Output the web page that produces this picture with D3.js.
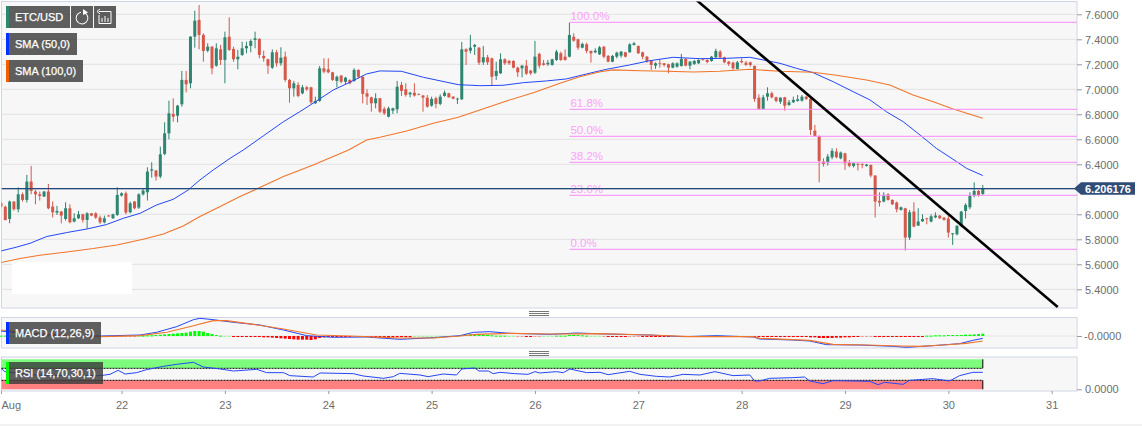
<!DOCTYPE html>
<html>
<head>
<meta charset="utf-8">
<script src="https://d3js.org/d3.v7.min.js"></script>
<style>
  html, body { margin: 0; padding: 0; background: #fff; }
  svg { display: block; font-family: "Liberation Sans", Arial, sans-serif; }
</style>
</head>
<body>
<div id="chart"></div>
<script>
// hourly candles
const opens = [
  6.09,6.06,5.963,6.102,6.04,6.16,6.115,6.262,6.182,6.16,
  6.142,6.182,6.062,6.014,6.022,5.963,6.048,5.942,5.968,6.0,
  5.955,6.008,6.008,5.974,5.936,5.99,5.968,5.995,6.15,6.168,
  6.016,6.102,6.054,6.16,6.176,6.35,6.35,6.302,6.483,6.648,
  6.803,6.789,6.88,7.075,7.048,7.421,7.555,7.435,7.309,7.341,
  7.189,7.32,7.235,7.421,7.323,7.24,7.275,7.328,7.347,7.395,
  7.403,7.267,7.24,7.173,7.296,7.208,7.261,7.075,7.008,7.035,
  6.968,7.016,7.016,6.888,6.907,7.168,7.16,7.136,7.067,7.11,
  7.06,7.075,7.067,7.155,7.1,6.968,6.936,6.888,6.928,6.843,
  6.781,6.829,6.84,7.035,7.0,6.96,6.973,6.963,6.95,6.933,
  6.869,6.928,6.883,6.947,6.968,6.941,6.92,6.92,7.32,7.309,
  7.341,7.333,7.216,7.256,7.248,7.107,7.128,7.24,7.227,7.227,
  7.173,7.168,7.189,7.15,7.133,7.283,7.208,7.2,7.195,7.235,
  7.288,7.261,7.261,7.421,7.4,7.333,7.36,7.307,7.296,7.28,
  7.341,7.267,7.221,7.261,7.269,7.296,7.296,7.355,7.347,7.296,
  7.261,7.227,7.189,7.208,7.208,7.2,7.173,7.181,7.187,7.243,
  7.189,7.203,7.208,7.24,7.235,7.227,7.256,7.301,7.256,7.221,
  7.213,7.163,7.227,7.213,7.216,7.187,6.933,6.843,6.941,6.968,
  6.936,6.901,6.936,6.875,6.896,6.907,6.909,6.941,6.923,6.669,
  6.627,6.422,6.414,6.456,6.502,6.448,6.488,6.414,6.387,6.403,
  6.403,6.387,6.395,6.31,6.107,6.102,6.16,6.115,6.094,6.035,
  6.048,5.814,6.022,5.91,5.944,5.968,5.942,5.976,5.99,5.974,
  5.966,5.84,5.84,5.907,6.027,6.056,6.15,6.187,6.163
]
const highs = [
  6.10,6.07,6.11,6.105,6.216,6.174,6.315,6.387,6.195,6.182,
  6.187,6.243,6.102,6.067,6.027,6.096,6.08,6.008,6.027,6.005,
  6.016,6.01,6.016,5.99,5.99,5.995,6.005,6.216,6.176,6.182,
  6.102,6.107,6.168,6.208,6.376,6.416,6.355,6.541,6.736,6.909,
  6.928,6.875,7.147,7.147,7.425,7.629,7.675,7.448,7.368,7.345,
  7.368,7.355,7.461,7.576,7.341,7.315,7.381,7.381,7.4,7.461,
  7.408,7.309,7.245,7.32,7.315,7.336,7.301,7.083,7.067,7.056,
  7.035,7.027,7.02,6.941,7.187,7.248,7.248,7.14,7.11,7.115,
  7.1,7.08,7.168,7.16,7.105,7.0,6.941,6.968,6.93,6.861,
  6.861,6.853,7.067,7.06,7.048,6.98,7.048,6.967,6.955,6.955,
  6.941,6.941,6.96,6.99,6.973,6.945,6.933,7.379,7.328,7.435,
  7.363,7.338,7.347,7.275,7.252,7.221,7.288,7.248,7.235,7.232,
  7.181,7.195,7.235,7.155,7.387,7.293,7.235,7.235,7.245,7.315,
  7.301,7.32,7.533,7.448,7.405,7.373,7.373,7.31,7.328,7.347,
  7.345,7.275,7.275,7.301,7.307,7.3,7.368,7.379,7.35,7.301,
  7.267,7.23,7.216,7.24,7.21,7.205,7.216,7.216,7.283,7.248,
  7.227,7.235,7.24,7.245,7.24,7.267,7.325,7.315,7.261,7.227,
  7.221,7.227,7.248,7.227,7.221,7.19,6.96,6.955,7.016,6.981,
  6.941,6.936,6.94,6.915,6.941,6.955,6.955,6.949,6.933,6.715,
  6.63,6.448,6.483,6.528,6.528,6.502,6.492,6.435,6.414,6.414,
  6.406,6.403,6.398,6.313,6.176,6.176,6.168,6.12,6.102,6.062,
  6.052,6.035,6.096,6.048,6.0,5.972,6.0,6.016,5.993,5.976,
  5.99,5.85,5.915,6.027,6.088,6.176,6.256,6.195,6.235
]
const lows = [
  6.056,5.95,5.928,6.03,6.016,6.102,6.094,6.16,6.08,6.11,
  6.138,6.04,5.974,5.995,5.928,5.95,5.928,5.936,5.963,5.934,
  5.883,5.985,5.963,5.923,5.928,5.98,5.963,5.987,6.142,6.0,
  6.008,6.04,6.043,6.15,6.11,6.294,6.27,6.288,6.472,6.6,
  6.741,6.736,6.861,6.976,7.008,7.333,7.32,7.221,7.296,7.12,
  7.181,7.195,7.048,7.307,7.221,7.16,7.267,7.288,7.296,7.328,
  7.248,7.221,7.123,7.163,7.181,7.189,7.06,6.893,6.941,6.936,
  6.96,6.987,6.883,6.883,6.9,7.128,7.128,7.067,7.016,7.048,
  7.04,7.04,7.06,7.088,6.888,6.875,6.821,6.848,6.81,6.795,
  6.775,6.803,6.808,6.947,6.941,6.936,6.941,6.953,6.821,6.853,
  6.861,6.848,6.872,6.941,6.933,6.92,6.883,6.915,7.195,7.288,
  7.275,7.195,7.195,7.195,7.027,7.075,7.123,7.195,7.195,7.168,
  7.1,7.096,7.115,7.115,7.123,7.168,7.189,7.187,7.189,7.227,
  7.227,7.229,7.255,7.381,7.315,7.328,7.288,7.213,7.288,7.275,
  7.248,7.216,7.216,7.248,7.253,7.255,7.293,7.35,7.283,7.24,
  7.213,7.155,7.163,7.173,7.181,7.128,7.168,7.173,7.181,7.185,
  7.16,7.195,7.203,7.23,7.208,7.221,7.248,7.248,7.208,7.187,
  7.155,7.16,7.208,7.187,7.181,6.9,6.84,6.84,6.909,6.928,
  6.896,6.883,6.829,6.867,6.891,6.901,6.901,6.915,6.635,6.621,
  6.256,6.382,6.39,6.44,6.448,6.44,6.355,6.376,6.374,6.35,
  6.368,6.382,6.296,5.974,6.062,6.096,6.11,6.075,6.016,6.03,
  5.71,5.795,5.896,5.907,5.939,5.92,5.936,5.968,5.963,5.95,
  5.814,5.755,5.832,5.896,5.966,6.04,6.136,6.142,6.155
]
const closes = [
  6.06,5.955,6.102,6.04,6.16,6.115,6.262,6.187,6.16,6.147,
  6.182,6.048,6.016,6.027,5.99,6.048,5.936,5.968,6.0,5.955,
  6.008,5.99,5.974,5.936,5.968,5.985,6.0,6.155,6.168,6.014,
  6.088,6.048,6.16,6.19,6.342,6.36,6.302,6.48,6.648,6.808,
  6.781,6.869,7.075,7.04,7.421,7.549,7.435,7.307,7.341,7.168,
  7.328,7.235,7.416,7.315,7.24,7.261,7.328,7.347,7.387,7.408,
  7.275,7.248,7.189,7.296,7.208,7.253,7.075,7.008,7.048,6.947,
  7.016,7.0,6.896,6.907,7.168,7.141,7.136,7.075,7.1,7.06,
  7.093,7.048,7.155,7.1,6.963,6.941,6.888,6.928,6.821,6.808,
  6.848,6.848,7.021,6.987,6.955,6.973,6.95,6.957,6.933,6.861,
  6.923,6.883,6.941,6.973,6.936,6.925,6.925,7.32,7.301,7.333,
  7.355,7.213,7.256,7.216,7.1,7.147,7.24,7.208,7.208,7.173,
  7.136,7.189,7.125,7.128,7.261,7.189,7.195,7.213,7.24,7.301,
  7.235,7.235,7.435,7.389,7.333,7.363,7.307,7.288,7.309,7.336,
  7.261,7.221,7.267,7.293,7.301,7.261,7.36,7.368,7.288,7.261,
  7.227,7.195,7.208,7.203,7.195,7.173,7.208,7.208,7.243,7.189,
  7.221,7.227,7.235,7.235,7.218,7.261,7.307,7.256,7.216,7.203,
  7.168,7.216,7.216,7.195,7.195,6.923,6.843,6.936,6.968,6.936,
  6.907,6.933,6.869,6.896,6.915,6.92,6.941,6.923,6.675,6.627,
  6.427,6.403,6.462,6.507,6.456,6.494,6.408,6.387,6.408,6.398,
  6.395,6.398,6.31,6.102,6.094,6.155,6.115,6.08,6.04,6.056,
  5.814,6.016,5.902,5.942,5.963,5.963,5.984,5.99,5.968,5.955,
  5.854,5.848,5.907,6.022,6.075,6.147,6.187,6.155,6.206
]

// moving averages, [candle index, value]
const sma50 = [[0,5.707],[3.25,5.734],[6.74,5.768],[10.6,5.822],[15.25,5.854],[20.05,5.883],[24.5,5.918],[28.4,5.968],[32.3,6.008],[36.15,6.075],[40,6.12],[43.5,6.195],[46.2,6.275],[49.3,6.355],[53.2,6.448],[56.3,6.515],[60.9,6.627],[65.6,6.741],[69.4,6.821],[73.3,6.907],[77.2,6.995],[81,7.056],[84.9,7.123],[88,7.147],[93,7.144],[98.1,7.096],[106.2,7.037],[111.2,7.029],[116.6,7.032],[121.3,7.053],[126.7,7.067],[131.3,7.083],[136,7.123],[140.6,7.16],[146,7.195],[150.7,7.229],[156.1,7.256],[162.3,7.245],[168.5,7.248],[173.9,7.256],[177,7.235],[180.9,7.208],[184.7,7.168],[188.6,7.133],[193.3,7.06],[197.9,6.981],[201.8,6.915],[205.6,6.821],[209.5,6.741],[213.4,6.635],[217.2,6.528],[221.9,6.422],[224.2,6.368],[228,6.31]]
const sma100 = [[0,5.614],[4.4,5.646],[9,5.672],[15.25,5.699],[21.4,5.726],[26.9,5.755],[33,5.8],[37.7,5.843],[42.3,5.907],[46.2,5.982],[50.9,6.062],[55.5,6.142],[60.1,6.214],[65.6,6.302],[72.5,6.395],[80.7,6.515],[84.9,6.595],[88,6.616],[94.2,6.667],[100.4,6.728],[106.2,6.776],[111.2,6.835],[117.4,6.907],[123.6,6.973],[129.8,7.048],[134.4,7.1],[139.1,7.141],[142.2,7.155],[148.4,7.149],[154.6,7.144],[160.8,7.139],[166.9,7.144],[173.9,7.16],[180.9,7.144],[188.6,7.136],[194,7.112],[201,7.075],[206.4,7.035],[211.8,6.955],[216.5,6.901],[221.1,6.843],[228,6.768]]

// fibonacci retracement, drawn from fibStart to the right edge
const fibLabels = ["100.0%", "61.8%", "50.0%", "38.2%", "23.6%", "0.0%"]
const fibValues = [7.536, 6.84, 6.624, 6.416, 6.152, 5.72]
const fibStart = 132

// hand drawn trend line, two anchors
const trendLine = [[161.5, 7.714], [245.4, 5.258]]

const lastPrice = 6.206176
const lastPriceLabel = "6.206176"

const priceTicks = [5.4, 5.6, 5.8, 6.0, 6.2, 6.4, 6.6, 6.8, 7.0, 7.2, 7.4, 7.6]
const dayTicks = [0, 28, 52, 76, 100, 124, 148, 172, 196, 220, 244]
const dayLabels = ["Aug", "22", "23", "24", "25", "26", "27", "28", "29", "30", "31"]

const macdLine = [[0,.06],[7.5,.02],[15.2,.004],[23,0],[32.3,.012],[36.1,.044],[40.8,.112],[44.7,.196],[46.2,.212],[49.3,.196],[54,.164],[60.1,.132],[65.6,.072],[71,.004],[77.2,-.016],[84.9,-.012],[92.6,-.04],[100.4,-.02],[106.6,.004],[109.7,.044],[113.5,.052],[118.2,.032],[127.5,.02],[133.7,.036],[140.6,.024],[150.7,.012],[158.4,-.008],[166.2,.004],[174.7,-.012],[176.2,-.036],[183.9,-.048],[187.8,-.06],[191.7,-.104],[199.4,-.108],[207.2,-.124],[210.3,-.136],[216.4,-.116],[222.6,-.092],[225.7,-.052],[228,-.028]]
const macdSignal = [[0,.072],[7.5,.032],[15.2,.004],[23,-.008],[32.3,.004],[38.5,.044],[44.7,.124],[49.3,.184],[52.4,.184],[58.6,.14],[65.6,.084],[73.3,.012],[81,0],[88.8,-.016],[92.6,-.024],[100.4,-.024],[106.6,0],[110.4,.02],[118.2,.032],[127.5,.024],[139.1,.028],[150.7,.012],[160,-.008],[170,-.008],[174.7,-.008],[176.2,-.028],[183.9,-.044],[187.8,-.052],[193.2,-.1],[201,-.108],[208.7,-.12],[213.4,-.124],[218.8,-.108],[224.2,-.088],[228,-.06]]
const macdHist = [
  .004,.004,.004,.004,.004,.002,.002,.002,.002,.002,
  .002,.002,.002,.002,.002,.002,.002,.002,.002,.002,
  .002,-.002,-.002,-.004,-.004,-.004,-.004,-.002,-.002,-.002,
  -.002,-.002,.002,.004,.008,.008,.012,.016,.02,.024,
  .028,.032,.036,.04,.052,.06,.06,.052,.036,.024,
  .012,.004,.002,.002,-.004,-.008,-.008,-.012,-.012,-.012,
  -.012,-.016,-.016,-.02,-.024,-.028,-.032,-.036,-.04,-.044,
  -.044,-.044,-.048,-.04,-.024,-.016,-.012,-.008,-.008,-.004,
  -.004,-.004,-.002,-.002,-.004,-.008,-.012,-.012,-.016,-.016,
  -.012,-.012,-.008,-.008,-.004,-.004,.002,.002,.002,.002,
  .002,.002,.002,.002,.002,.002,.002,.012,.016,.02,
  .02,.02,.016,.012,.008,.004,.004,.004,.002,.002,
  -.002,-.002,-.004,-.004,-.002,-.002,.002,.002,.002,.004,
  .004,.004,.012,.012,.012,.008,.004,.002,.002,.002,
  -.002,-.004,-.004,-.004,-.004,-.004,-.002,-.002,-.002,-.004,
  -.004,-.004,-.004,-.004,-.004,-.004,-.002,-.002,-.002,-.002,
  -.002,-.002,.002,.002,.002,.002,.004,.004,.002,.002,
  .002,.002,.002,-.002,-.002,-.008,-.012,-.012,-.012,-.012,
  -.012,-.008,-.008,-.008,-.008,-.008,-.012,-.012,-.016,-.016,
  -.024,-.024,-.024,-.024,-.02,-.02,-.016,-.016,-.012,-.012,
  -.002,-.002,-.002,-.008,-.008,-.008,-.008,-.008,-.008,-.008,
  -.008,-.008,-.004,-.004,-.004,.004,.004,.008,.008,.008,
  .012,.012,.012,.012,.016,.016,.02,.024,.028
]

const rsiLine = [[0,69.9],[.9,58.8],[7.5,48],[15.2,45],[23,45.5],[25.3,49.9],[27.2,63.2],[28.8,51],[31.5,55.5],[33.8,65.5],[37.7,76.6],[40.8,83.2],[44.7,89.9],[47,74.3],[50.9,67.7],[54,61],[59.4,66.6],[61.7,55.5],[65.6,55.5],[67.1,45.5],[72.5,41],[74.1,54.4],[81.8,52.1],[84.1,44.4],[88.8,36.6],[91.1,42.1],[92.6,53.2],[97.3,47.7],[99.2,42.1],[102.7,51],[105.8,47.7],[107,67.7],[110,71],[111,61],[113.2,61],[114.3,52.1],[115.9,56.6],[119.3,52.1],[122.4,49.9],[124,58.8],[125.1,54.4],[129,58.8],[130.6,55.5],[132.1,67.7],[136,55.5],[139.1,56.6],[141,48.8],[146,59.9],[148.4,49.9],[152.2,43.2],[155.3,41],[158.4,49.9],[162.3,47.7],[165.8,58.8],[170,45.5],[173.9,47.7],[175,27.7],[176.2,27.7],[178.5,36.6],[183.9,38.8],[186.6,41],[187.8,27.7],[190.9,18.8],[193.2,28.8],[201.7,26.6],[203.7,15.5],[205.2,23.2],[209.5,16.6],[211,29.9],[216.4,35.5],[220.3,27.7],[222.6,45.5],[225.7,56.6],[228,56.6]]
const rsiLevels = [30, 70]

const WIDTH = 1142, HEIGHT = 426
const LEFT = 1.5, RIGHT = 1077
const GRID = "#e6e6e6", BORDER = "#d2d5e6", LABEL = "#6e6e6e"
const UP = "#2e8570", DOWN = "#d5584a"
const BLUE = "#2447f5", ORANGE = "#f0752a"

const svg = d3.select("#chart").append("svg").attr("width", WIDTH).attr("height", HEIGHT)

const x = d3.scaleLinear().domain([0, 244]).range([1, 1051.7])
const y = d3.scaleLinear().domain([5.4, 7.6]).range([289.3, 14.3])
const yMacd = d3.scaleLinear().domain([-.144, .222]).range([348, 317.5])
const yRsi = d3.scaleLinear().domain([0, 100]).range([389.3, 359.3])

const lineOf = yScale => d3.line().x(d => x(d[0])).y(d => yScale(d[1]))

// panels
const panels = [[1.5, 308], [317.5, 348], [357, 391]]
panels.forEach(p => {
  svg.append("rect")
    .attr("x", LEFT).attr("y", p[0])
    .attr("width", RIGHT - LEFT).attr("height", p[1] - p[0])
    .attr("fill", "#f7f7f7").attr("stroke", BORDER)
})

svg.append("clipPath").attr("id", "main-clip").append("rect")
  .attr("x", LEFT).attr("y", 1.5).attr("width", RIGHT - LEFT).attr("height", 306.5)

// price axis with the grid
const priceAxis = d3.axisRight(y).tickValues(priceTicks).tickSize(5).tickPadding(3).tickFormat(d3.format(".4f"))
svg.selectAll("line.grid").data(priceTicks).enter().append("line")
  .attr("class", "grid")
  .attr("x1", LEFT).attr("x2", RIGHT)
  .attr("y1", d => y(d)).attr("y2", d => y(d))
  .attr("stroke", GRID).attr("stroke-width", 1.3)

const styleAxis = g => {
  g.select(".domain").remove()
  g.selectAll("line").attr("stroke", "#9a9a9a")
  g.selectAll("text").attr("fill", LABEL).style("font-size", "11px").style("font-family", "inherit")
}
const priceG = svg.append("g").attr("transform", `translate(${RIGHT},0)`).call(priceAxis).call(styleAxis)
priceG.selectAll("text").attr("dy", "0.42em")
// the 6.2000 label sits behind the last price tag
priceG.selectAll("text").filter(d => d === 6.2).remove()

const main = svg.append("g").attr("clip-path", "url(#main-clip)")

// candles
const candles = main.append("g")
d3.range(closes.length).forEach(i => {
  const up = closes[i] >= opens[i]
  const color = up ? UP : DOWN
  candles.append("line")
    .attr("x1", x(i)).attr("x2", x(i))
    .attr("y1", y(highs[i])).attr("y2", y(lows[i]))
    .attr("stroke", color).attr("stroke-width", 1)
  const top = y(Math.max(opens[i], closes[i])), bottom = y(Math.min(opens[i], closes[i]))
  candles.append("rect")
    .attr("x", x(i) - 1.5).attr("y", top)
    .attr("width", 3).attr("height", Math.max(bottom - top, 0.8))
    .attr("fill", color)
})

main.append("path").attr("d", lineOf(y)(sma50)).attr("fill", "none").attr("stroke", BLUE).attr("stroke-width", 1)
main.append("path").attr("d", lineOf(y)(sma100)).attr("fill", "none").attr("stroke", ORANGE).attr("stroke-width", 1.1)

// fib levels
fibValues.forEach((v, i) => {
  main.append("line")
    .attr("x1", x(fibStart)).attr("x2", RIGHT)
    .attr("y1", y(v)).attr("y2", y(v))
    .attr("stroke", "#fb8cfb").attr("stroke-width", 1)
  main.append("text")
    .attr("x", x(fibStart) + 1).attr("y", y(v) - 2)
    .attr("fill", "#fca0fc").style("font-size", "11.5px")
    .text(fibLabels[i])
})

// last price line
main.append("line")
  .attr("x1", LEFT).attr("x2", RIGHT)
  .attr("y1", y(lastPrice)).attr("y2", y(lastPrice))
  .attr("stroke", "#234a7c").attr("stroke-width", 1.2)

main.append("path").attr("d", lineOf(y)(trendLine))
  .attr("fill", "none").attr("stroke", "#000").attr("stroke-width", 2.6)

// last price tag
const tagY = y(lastPrice)
svg.append("path")
  .attr("d", `M1074,${tagY} L1081,${tagY - 6.3} L1135,${tagY - 6.3} L1135,${tagY + 6.3} L1081,${tagY + 6.3} Z`)
  .attr("fill", "#2f4d77")
svg.append("text")
  .attr("x", 1085).attr("y", tagY + 4)
  .attr("fill", "#fff").attr("font-weight", "bold").style("font-size", "11px")
  .text(lastPriceLabel)

// MACD
svg.append("line")
  .attr("x1", LEFT).attr("x2", RIGHT)
  .attr("y1", yMacd(0)).attr("y2", yMacd(0))
  .attr("stroke", GRID)
const macdAxis = d3.axisRight(yMacd).tickValues([0]).tickSize(5).tickPadding(2).tickFormat(() => "-0.0000")
svg.append("g").attr("transform", `translate(${RIGHT},0)`).call(macdAxis).call(styleAxis)

svg.append("g").selectAll("rect").data(macdHist).enter().append("rect")
  .attr("x", (d, i) => x(i) - 1.5)
  .attr("y", d => d >= 0 ? yMacd(d) : yMacd(0))
  .attr("width", 3)
  .attr("height", d => Math.max(Math.abs(yMacd(d) - yMacd(0)), 1))
  .attr("fill", d => d >= 0 ? "#00ff00" : "#ff0000")
  .attr("fill-opacity", d => Math.abs(d) <= .002 ? 0.35 : 1)
svg.append("path").attr("d", lineOf(yMacd)(macdLine)).attr("fill", "none").attr("stroke", BLUE).attr("stroke-width", 1)
svg.append("path").attr("d", lineOf(yMacd)(macdSignal)).attr("fill", "none").attr("stroke", ORANGE).attr("stroke-width", 1.1)

// RSI
const rsiEnd = x(closes.length - 1)
svg.append("rect")
  .attr("x", LEFT).attr("y", yRsi(100))
  .attr("width", rsiEnd - LEFT).attr("height", yRsi(rsiLevels[1]) - yRsi(100))
  .attr("fill", "#7dfc7d")
svg.append("rect")
  .attr("x", LEFT).attr("y", yRsi(rsiLevels[0]))
  .attr("width", rsiEnd - LEFT).attr("height", yRsi(0) - yRsi(rsiLevels[0]))
  .attr("fill", "#ff8080")
rsiLevels.forEach(v => {
  svg.append("line")
    .attr("x1", LEFT).attr("x2", rsiEnd)
    .attr("y1", yRsi(v)).attr("y2", yRsi(v))
    .attr("stroke", "#000").attr("stroke-dasharray", "2,1")
})
svg.append("line")
  .attr("x1", rsiEnd).attr("x2", rsiEnd)
  .attr("y1", yRsi(100)).attr("y2", yRsi(rsiLevels[1]))
  .attr("stroke", "#000")
svg.append("line")
  .attr("x1", rsiEnd).attr("x2", rsiEnd)
  .attr("y1", yRsi(rsiLevels[0])).attr("y2", yRsi(0))
  .attr("stroke", "#000")
svg.append("path").attr("d", lineOf(yRsi)(rsiLine)).attr("fill", "none").attr("stroke", BLUE).attr("stroke-width", 1)

const rsiAxis = d3.axisRight(yRsi).tickValues([0]).tickSize(5).tickPadding(3).tickFormat(d3.format(".4f"))
svg.append("g").attr("transform", `translate(${RIGHT},0)`).call(rsiAxis).call(styleAxis)

// day axis
const dayAxis = d3.axisBottom(x).tickValues(dayTicks).tickSize(3).tickPadding(7)
  .tickFormat((d, i) => dayLabels[i])
svg.append("g").attr("transform", "translate(0,391)").call(dayAxis).call(styleAxis)
  .selectAll("text").filter((d, i) => i === 0).attr("text-anchor", "start").attr("x", 0)

svg.append("line").attr("x1", 0).attr("x2", WIDTH).attr("y1", 425).attr("y2", 425).attr("stroke", "#e6e6e6")

// pane splitters
;[311.5, 351.5].forEach(top => {
  d3.range(3).forEach(k => {
    svg.append("line")
      .attr("x1", 529).attr("x2", 549)
      .attr("y1", top + k * 2).attr("y2", top + k * 2)
      .attr("stroke", "#777")
  })
})

// blank patch in the lower left
svg.append("rect").attr("x", 12).attr("y", 262).attr("width", 120).attr("height", 32).attr("fill", "#fff")

// legend boxes
const legendBox = (bx, by, w, h, color, label) => {
  svg.append("rect").attr("x", bx).attr("y", by).attr("width", w).attr("height", h)
    .attr("fill", "#3c3c3c").attr("fill-opacity", 0.82)
  if (color) svg.append("rect").attr("x", bx).attr("y", by).attr("width", 3).attr("height", h).attr("fill", color)
  if (label) svg.append("text").attr("x", bx + 9).attr("y", by + h / 2 + 4)
    .attr("fill", "#fff").attr("stroke", "#fff").attr("stroke-width", 0.25)
    .style("font-size", "11px").text(label)
}
legendBox(6, 6, 64, 22, UP, "ETC/USD")
legendBox(71, 6, 22, 22)
legendBox(94, 6, 22, 22)
legendBox(6, 33, 71, 22, "#0033ff", "SMA (50,0)")
legendBox(6, 60, 77, 22, "#f06000", "SMA (100,0)")
legendBox(6, 322, 95, 22, "#0033ff", "MACD (12,26,9)")
legendBox(6, 362, 97, 22, "#00ff00", "RSI (14,70,30,1)")

// refresh icon
svg.append("path")
  .attr("d", d3.arc().innerRadius(5.4).outerRadius(6.4).startAngle(0.5).endAngle(6.1)())
  .attr("transform", "translate(82,18)").attr("fill", "#fff")
svg.append("path").attr("d", "M83,9 L88,12.5 L83,15 Z").attr("fill", "#fff")

// chart type icon
svg.append("path")
  .attr("d", "M99,11.5 H111 V23.5 H99 V15 M102,22 V18 M105,22 V16 M108,22 V18 M97,11.5 L100,9 M97,11.5 L100,14")
  .attr("fill", "none").attr("stroke", "#fff")
</script>
</body>
</html>
